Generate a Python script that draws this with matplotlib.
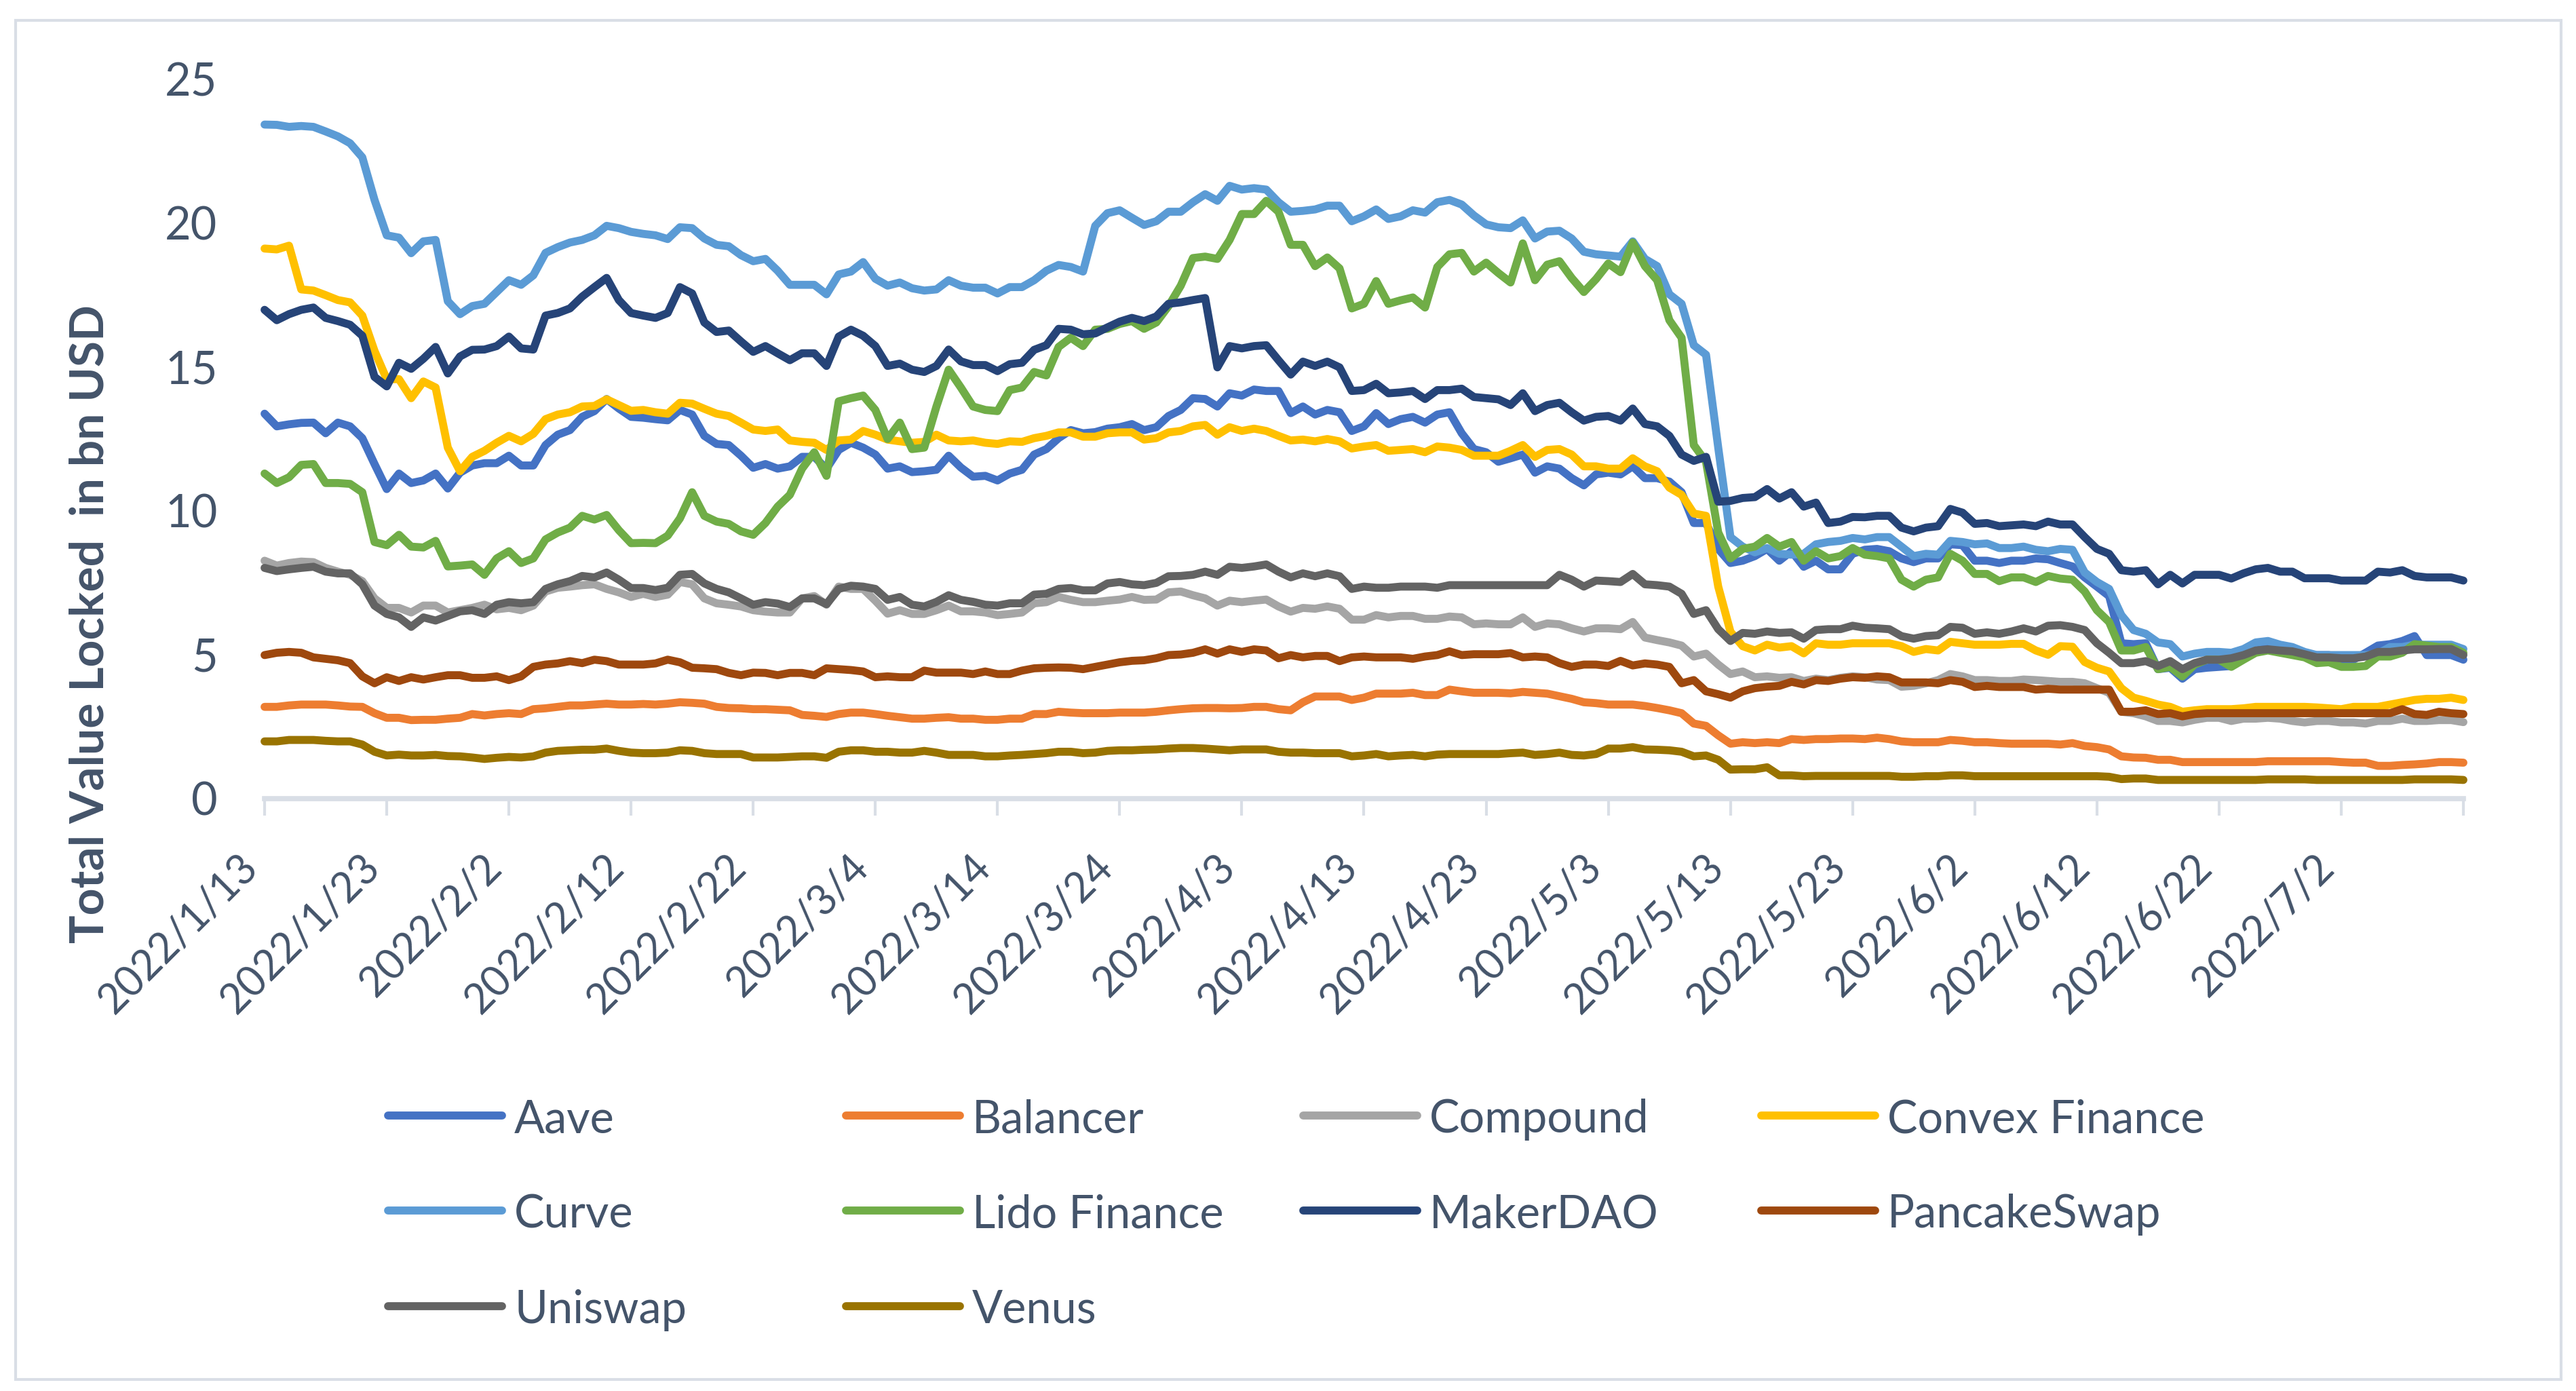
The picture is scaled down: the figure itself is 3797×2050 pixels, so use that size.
# -*- coding: utf-8 -*-
"""Total Value Locked of ten DeFi protocols, Jan-Jul 2022 (Excel-style line chart)."""

import matplotlib

matplotlib.use("Agg")
import matplotlib.pyplot as plt
from matplotlib.lines import Line2D
from matplotlib.patches import Rectangle
import pandas as pd

plt.rcParams["font.family"] = ["Lato", "DejaVu Sans"]

# categories: one point per day
dates = pd.date_range("2022-01-13", periods=181, freq="D")
date_labels = [f"{d.year}/{d.month}/{d.day}" for d in dates]

# values in bn USD
aave = [
    13.38, 12.94, 13.01, 13.06, 13.07, 12.70, 13.07, 12.94, 12.53, 11.63,
    10.76, 11.30, 10.97, 11.06, 11.30, 10.78, 11.33, 11.58, 11.66, 11.66,
    11.92, 11.58, 11.58, 12.29, 12.65, 12.81, 13.27, 13.47, 13.89, 13.56,
    13.27, 13.24, 13.19, 13.15, 13.51, 13.35, 12.61, 12.33, 12.29, 11.92,
    11.50, 11.63, 11.47, 11.55, 11.88, 11.88, 11.47, 12.12, 12.37, 12.20,
    11.96, 11.47, 11.55, 11.35, 11.38, 11.43, 11.92, 11.51, 11.19, 11.22,
    11.06, 11.30, 11.43, 11.96, 12.15, 12.53, 12.81, 12.70, 12.74, 12.86,
    12.91, 13.02, 12.81, 12.91, 13.30, 13.51, 13.92, 13.89, 13.63, 14.09,
    14.01, 14.22, 14.17, 14.17, 13.40, 13.63, 13.35, 13.51, 13.43, 12.78,
    12.94, 13.40, 13.02, 13.19, 13.27, 13.07, 13.35, 13.43, 12.70, 12.15,
    12.04, 11.71, 11.83, 11.96, 11.33, 11.55, 11.47, 11.14, 10.89, 11.27,
    11.33, 11.27, 11.55, 11.14, 11.14, 11.02, 10.65, 9.58, 9.58, 8.68,
    8.19, 8.27, 8.43, 8.68, 8.27, 8.60, 8.06, 8.27, 7.97, 7.97,
    8.51, 8.65, 8.68, 8.60, 8.35, 8.22, 8.35, 8.35, 8.84, 8.81,
    8.27, 8.27, 8.19, 8.27, 8.27, 8.35, 8.32, 8.19, 8.07, 7.69,
    7.37, 7.04, 5.40, 5.37, 5.40, 4.50, 4.55, 4.17, 4.50, 4.55,
    4.58, 4.61, 4.91, 5.15, 5.24, 5.15, 5.10, 4.99, 4.99, 4.99,
    4.83, 4.83, 5.07, 5.32, 5.37, 5.48, 5.65, 4.99, 4.99, 4.99,
    4.83]
balancer = [
    3.19, 3.19, 3.24, 3.27, 3.27, 3.27, 3.24, 3.20, 3.19, 2.97,
    2.81, 2.81, 2.73, 2.74, 2.74, 2.78, 2.81, 2.94, 2.89, 2.94,
    2.97, 2.94, 3.11, 3.14, 3.19, 3.24, 3.24, 3.27, 3.30, 3.27,
    3.27, 3.29, 3.27, 3.30, 3.35, 3.33, 3.30, 3.19, 3.15, 3.14,
    3.11, 3.11, 3.09, 3.07, 2.91, 2.88, 2.84, 2.94, 2.99, 2.99,
    2.94, 2.88, 2.83, 2.78, 2.78, 2.81, 2.83, 2.78, 2.78, 2.74,
    2.74, 2.78, 2.78, 2.94, 2.94, 3.02, 2.99, 2.97, 2.97, 2.97,
    2.99, 2.99, 2.99, 3.02, 3.07, 3.11, 3.14, 3.15, 3.15, 3.14,
    3.15, 3.19, 3.19, 3.11, 3.07, 3.35, 3.55, 3.55, 3.55, 3.43,
    3.51, 3.65, 3.65, 3.65, 3.68, 3.60, 3.60, 3.79, 3.73, 3.68,
    3.68, 3.68, 3.66, 3.71, 3.68, 3.65, 3.56, 3.47, 3.35, 3.32,
    3.27, 3.27, 3.27, 3.22, 3.15, 3.07, 2.97, 2.61, 2.53, 2.20,
    1.91, 1.96, 1.93, 1.96, 1.93, 2.07, 2.04, 2.07, 2.07, 2.09,
    2.09, 2.07, 2.12, 2.07, 1.99, 1.96, 1.96, 1.96, 2.04, 2.01,
    1.96, 1.96, 1.93, 1.91, 1.91, 1.91, 1.91, 1.88, 1.93, 1.83,
    1.79, 1.71, 1.47, 1.43, 1.42, 1.35, 1.35, 1.27, 1.27, 1.27,
    1.27, 1.27, 1.27, 1.27, 1.30, 1.30, 1.30, 1.30, 1.30, 1.30,
    1.27, 1.25, 1.25, 1.14, 1.14, 1.17, 1.19, 1.22, 1.27, 1.27,
    1.25]
compound = [
    8.27, 8.10, 8.19, 8.24, 8.22, 8.02, 7.89, 7.78, 7.56, 6.96,
    6.63, 6.63, 6.47, 6.71, 6.71, 6.47, 6.55, 6.63, 6.74, 6.58,
    6.63, 6.55, 6.71, 7.20, 7.33, 7.37, 7.42, 7.45, 7.29, 7.17,
    7.01, 7.12, 7.01, 7.09, 7.53, 7.45, 6.96, 6.79, 6.74, 6.68,
    6.55, 6.50, 6.47, 6.47, 6.96, 7.04, 6.74, 7.37, 7.29, 7.29,
    6.88, 6.43, 6.55, 6.42, 6.42, 6.55, 6.71, 6.51, 6.51, 6.47,
    6.38, 6.42, 6.47, 6.79, 6.83, 7.01, 6.91, 6.83, 6.83, 6.88,
    6.92, 7.01, 6.91, 6.92, 7.17, 7.20, 7.07, 6.96, 6.71, 6.88,
    6.83, 6.88, 6.92, 6.68, 6.50, 6.63, 6.60, 6.68, 6.60, 6.22,
    6.22, 6.38, 6.30, 6.35, 6.35, 6.25, 6.25, 6.33, 6.30, 6.06,
    6.09, 6.06, 6.06, 6.30, 5.97, 6.09, 6.06, 5.92, 5.81, 5.92,
    5.92, 5.89, 6.14, 5.60, 5.51, 5.43, 5.32, 4.94, 5.04, 4.66,
    4.33, 4.42, 4.22, 4.25, 4.20, 4.22, 4.09, 4.17, 4.12, 4.20,
    4.25, 4.22, 4.14, 4.12, 3.89, 3.92, 4.01, 4.12, 4.33, 4.25,
    4.12, 4.12, 4.09, 4.09, 4.14, 4.12, 4.09, 4.06, 4.06, 4.01,
    3.84, 3.68, 3.02, 2.97, 2.86, 2.70, 2.70, 2.65, 2.74, 2.81,
    2.81, 2.70, 2.78, 2.78, 2.81, 2.78, 2.70, 2.65, 2.70, 2.70,
    2.65, 2.65, 2.61, 2.70, 2.70, 2.78, 2.70, 2.70, 2.73, 2.73,
    2.66]
convex = [
    19.12, 19.09, 19.22, 17.70, 17.66, 17.50, 17.33, 17.25, 16.79, 15.56,
    14.58, 14.58, 13.92, 14.50, 14.29, 12.20, 11.38, 11.88, 12.09, 12.37,
    12.61, 12.42, 12.68, 13.19, 13.35, 13.43, 13.63, 13.65, 13.88, 13.68,
    13.48, 13.51, 13.43, 13.38, 13.76, 13.73, 13.55, 13.38, 13.30, 13.07,
    12.83, 12.78, 12.83, 12.45, 12.40, 12.37, 12.12, 12.45, 12.48, 12.78,
    12.65, 12.48, 12.42, 12.37, 12.40, 12.65, 12.45, 12.42, 12.45, 12.37,
    12.33, 12.42, 12.40, 12.53, 12.61, 12.73, 12.73, 12.58, 12.58, 12.70,
    12.73, 12.73, 12.48, 12.53, 12.73, 12.78, 12.94, 12.99, 12.65, 12.91,
    12.78, 12.86, 12.78, 12.61, 12.45, 12.48, 12.42, 12.50, 12.42, 12.17,
    12.24, 12.29, 12.09, 12.12, 12.15, 12.04, 12.24, 12.20, 12.12, 11.92,
    11.92, 11.92, 12.09, 12.29, 11.88, 12.12, 12.15, 11.96, 11.55, 11.55,
    11.47, 11.47, 11.83, 11.55, 11.38, 10.81, 10.56, 9.91, 9.83, 7.37,
    5.80, 5.30, 5.15, 5.35, 5.25, 5.30, 5.05, 5.40, 5.35, 5.35,
    5.40, 5.40, 5.40, 5.40, 5.30, 5.10, 5.20, 5.15, 5.45, 5.40,
    5.35, 5.35, 5.35, 5.38, 5.38, 5.15, 5.00, 5.30, 5.28, 4.75,
    4.55, 4.42, 3.84, 3.51, 3.40, 3.27, 3.19, 3.02, 3.07, 3.11,
    3.11, 3.11, 3.14, 3.19, 3.19, 3.19, 3.19, 3.19, 3.17, 3.14,
    3.11, 3.19, 3.19, 3.19, 3.27, 3.35, 3.43, 3.47, 3.47, 3.51,
    3.43]
curve = [
    23.43, 23.42, 23.35, 23.38, 23.35, 23.19, 23.02, 22.78, 22.29, 20.81,
    19.58, 19.50, 18.96, 19.37, 19.42, 17.29, 16.84, 17.12, 17.20, 17.61,
    18.02, 17.86, 18.19, 18.97, 19.17, 19.33, 19.42, 19.58, 19.91, 19.83,
    19.70, 19.63, 19.58, 19.45, 19.86, 19.83, 19.47, 19.25, 19.20, 18.89,
    18.68, 18.76, 18.35, 17.86, 17.86, 17.86, 17.53, 18.22, 18.32, 18.65,
    18.07, 17.83, 17.94, 17.74, 17.66, 17.70, 18.02, 17.83, 17.76, 17.76,
    17.56, 17.78, 17.78, 18.02, 18.35, 18.55, 18.48, 18.32, 19.91, 20.35,
    20.45, 20.19, 19.94, 20.07, 20.40, 20.40, 20.73, 21.01, 20.78, 21.30,
    21.17, 21.22, 21.17, 20.73, 20.40, 20.43, 20.48, 20.61, 20.61, 20.07,
    20.24, 20.48, 20.15, 20.24, 20.45, 20.37, 20.73, 20.81, 20.65, 20.27,
    19.96, 19.86, 19.83, 20.10, 19.47, 19.71, 19.74, 19.47, 19.01, 18.92,
    18.88, 18.84, 19.37, 18.76, 18.51, 17.53, 17.20, 15.76, 15.43, 12.20,
    9.09, 8.76, 8.56, 8.71, 8.51, 8.48, 8.51, 8.84, 8.92, 8.96,
    9.06, 9.01, 9.09, 9.09, 8.76, 8.43, 8.51, 8.48, 8.96, 8.92,
    8.84, 8.87, 8.71, 8.71, 8.76, 8.65, 8.60, 8.68, 8.65, 7.86,
    7.53, 7.29, 6.38, 5.86, 5.73, 5.43, 5.37, 4.94, 5.04, 5.10,
    5.10, 5.07, 5.20, 5.43, 5.48, 5.35, 5.27, 5.10, 4.99, 4.99,
    4.99, 4.99, 4.99, 5.04, 5.27, 5.27, 5.35, 5.35, 5.35, 5.35,
    5.20]
lido = [
    11.30, 10.97, 11.17, 11.60, 11.63, 10.97, 10.97, 10.94, 10.65, 8.92,
    8.81, 9.17, 8.76, 8.73, 8.96, 8.07, 8.10, 8.14, 7.78, 8.35,
    8.60, 8.19, 8.35, 9.01, 9.25, 9.42, 9.83, 9.70, 9.86, 9.33,
    8.88, 8.89, 8.88, 9.14, 9.74, 10.65, 9.83, 9.63, 9.55, 9.29,
    9.17, 9.58, 10.15, 10.56, 11.47, 12.04, 11.22, 13.81, 13.92, 14.01,
    13.51, 12.50, 13.07, 12.15, 12.20, 13.63, 14.91, 14.29, 13.63, 13.51,
    13.47, 14.20, 14.29, 14.83, 14.71, 15.70, 16.02, 15.73, 16.30, 16.33,
    16.50, 16.60, 16.33, 16.55, 17.12, 17.83, 18.79, 18.84, 18.76, 19.42,
    20.32, 20.32, 20.78, 20.40, 19.25, 19.25, 18.51, 18.81, 18.43, 17.04,
    17.20, 17.99, 17.20, 17.32, 17.42, 17.07, 18.48, 18.92, 18.97, 18.32,
    18.63, 18.27, 17.94, 19.30, 18.02, 18.56, 18.68, 18.10, 17.61, 18.06,
    18.60, 18.30, 19.33, 18.51, 18.02, 16.63, 16.02, 12.29, 11.71, 9.25,
    8.35, 8.68, 8.76, 9.06, 8.76, 8.92, 8.27, 8.60, 8.35, 8.43,
    8.71, 8.48, 8.43, 8.35, 7.61, 7.37, 7.61, 7.69, 8.51, 8.27,
    7.81, 7.81, 7.56, 7.69, 7.69, 7.53, 7.74, 7.65, 7.61, 7.20,
    6.55, 6.14, 5.15, 5.15, 5.27, 4.50, 4.58, 4.25, 4.66, 4.83,
    4.83, 4.58, 4.83, 5.07, 5.15, 5.07, 4.99, 4.91, 4.71, 4.74,
    4.58, 4.58, 4.61, 4.94, 4.94, 5.07, 5.37, 5.32, 5.27, 5.27,
    5.07]
maker = [
    16.99, 16.63, 16.84, 16.99, 17.07, 16.71, 16.60, 16.47, 16.09, 14.66,
    14.33, 15.15, 14.94, 15.29, 15.70, 14.78, 15.37, 15.60, 15.61, 15.73,
    16.06, 15.65, 15.61, 16.79, 16.88, 17.04, 17.45, 17.78, 18.10, 17.33,
    16.88, 16.79, 16.71, 16.88, 17.78, 17.56, 16.55, 16.22, 16.27, 15.89,
    15.53, 15.73, 15.48, 15.24, 15.48, 15.48, 15.04, 16.06, 16.30, 16.09,
    15.73, 15.04, 15.12, 14.91, 14.83, 15.04, 15.61, 15.20, 15.07, 15.07,
    14.86, 15.10, 15.15, 15.60, 15.76, 16.33, 16.30, 16.14, 16.17, 16.38,
    16.58, 16.71, 16.60, 16.76, 17.20, 17.25, 17.33, 17.40, 14.99, 15.73,
    15.65, 15.73, 15.76, 15.24, 14.74, 15.19, 15.04, 15.19, 14.99, 14.17,
    14.20, 14.42, 14.09, 14.12, 14.17, 13.89, 14.20, 14.20, 14.25, 13.96,
    13.92, 13.88, 13.68, 14.09, 13.47, 13.68, 13.76, 13.43, 13.14, 13.27,
    13.30, 13.14, 13.56, 13.02, 12.94, 12.61, 11.96, 11.74, 11.88, 10.32,
    10.35, 10.45, 10.48, 10.76, 10.43, 10.65, 10.15, 10.29, 9.58, 9.63,
    9.79, 9.78, 9.83, 9.83, 9.42, 9.29, 9.42, 9.47, 10.07, 9.94,
    9.55, 9.58, 9.47, 9.50, 9.53, 9.47, 9.63, 9.53, 9.53, 9.09,
    8.68, 8.51, 7.94, 7.89, 7.94, 7.45, 7.78, 7.48, 7.78, 7.78,
    7.78, 7.65, 7.83, 7.97, 8.02, 7.89, 7.89, 7.66, 7.66, 7.66,
    7.58, 7.58, 7.58, 7.89, 7.86, 7.94, 7.74, 7.69, 7.69, 7.69,
    7.58]
pancake = [
    4.99, 5.07, 5.10, 5.07, 4.91, 4.86, 4.81, 4.71, 4.25, 4.01,
    4.22, 4.09, 4.22, 4.14, 4.22, 4.29, 4.29, 4.20, 4.20, 4.25,
    4.12, 4.25, 4.58, 4.66, 4.70, 4.78, 4.71, 4.83, 4.78, 4.66,
    4.66, 4.66, 4.70, 4.83, 4.74, 4.55, 4.53, 4.50, 4.37, 4.29,
    4.38, 4.37, 4.29, 4.37, 4.37, 4.29, 4.53, 4.50, 4.47, 4.42,
    4.22, 4.25, 4.22, 4.22, 4.45, 4.38, 4.38, 4.38, 4.33, 4.42,
    4.33, 4.33, 4.45, 4.53, 4.55, 4.56, 4.55, 4.50, 4.58, 4.66,
    4.74, 4.79, 4.81, 4.88, 4.99, 5.01, 5.07, 5.19, 5.04, 5.19,
    5.10, 5.19, 5.15, 4.88, 4.99, 4.91, 4.96, 4.96, 4.78, 4.91,
    4.94, 4.91, 4.91, 4.91, 4.86, 4.94, 4.99, 5.12, 4.99, 5.02,
    5.02, 5.02, 5.06, 4.91, 4.94, 4.91, 4.71, 4.58, 4.66, 4.66,
    4.61, 4.79, 4.63, 4.70, 4.66, 4.58, 4.01, 4.12, 3.73, 3.63,
    3.51, 3.73, 3.84, 3.89, 3.92, 4.06, 3.97, 4.12, 4.09, 4.17,
    4.22, 4.20, 4.25, 4.22, 4.04, 4.04, 4.04, 4.01, 4.12, 4.06,
    3.88, 3.92, 3.88, 3.88, 3.88, 3.79, 3.82, 3.79, 3.79, 3.79,
    3.79, 3.79, 3.02, 3.02, 3.07, 2.94, 2.97, 2.86, 2.94, 2.97,
    2.97, 2.97, 2.97, 2.97, 2.97, 2.97, 2.97, 2.97, 2.97, 2.97,
    2.97, 2.97, 2.97, 2.97, 2.97, 3.11, 2.94, 2.91, 3.02, 2.97,
    2.94]
uniswap = [
    8.02, 7.91, 7.97, 8.02, 8.06, 7.89, 7.83, 7.83, 7.45, 6.71,
    6.42, 6.30, 5.97, 6.30, 6.19, 6.35, 6.51, 6.55, 6.42, 6.74,
    6.83, 6.79, 6.83, 7.29, 7.45, 7.56, 7.74, 7.69, 7.86, 7.61,
    7.32, 7.32, 7.25, 7.33, 7.78, 7.81, 7.48, 7.29, 7.17, 6.96,
    6.74, 6.83, 6.78, 6.66, 6.96, 6.96, 6.76, 7.29, 7.40, 7.37,
    7.29, 6.91, 7.01, 6.74, 6.68, 6.84, 7.07, 6.91, 6.84, 6.74,
    6.71, 6.79, 6.79, 7.09, 7.12, 7.29, 7.32, 7.24, 7.24, 7.48,
    7.53, 7.45, 7.42, 7.50, 7.73, 7.74, 7.78, 7.89, 7.78, 8.06,
    8.02, 8.07, 8.14, 7.89, 7.69, 7.83, 7.73, 7.83, 7.73, 7.29,
    7.37, 7.33, 7.33, 7.37, 7.37, 7.37, 7.33, 7.42, 7.42, 7.42,
    7.42, 7.42, 7.42, 7.42, 7.42, 7.42, 7.78, 7.61, 7.37, 7.58,
    7.56, 7.53, 7.81, 7.45, 7.42, 7.37, 7.12, 6.42, 6.55, 5.89,
    5.48, 5.76, 5.73, 5.81, 5.76, 5.78, 5.56, 5.86, 5.89, 5.89,
    6.01, 5.94, 5.92, 5.89, 5.65, 5.56, 5.65, 5.68, 5.97, 5.94,
    5.73, 5.78, 5.73, 5.81, 5.92, 5.81, 6.01, 6.03, 5.97, 5.86,
    5.40, 5.07, 4.71, 4.71, 4.78, 4.61, 4.78, 4.50, 4.71, 4.83,
    4.83, 4.88, 4.99, 5.15, 5.19, 5.15, 5.12, 5.02, 4.91, 4.91,
    4.88, 4.88, 4.94, 5.10, 5.10, 5.15, 5.19, 5.19, 5.20, 5.20,
    4.99]
venus = [
    1.99, 1.99, 2.04, 2.04, 2.04, 2.01, 1.99, 1.99, 1.88, 1.63,
    1.50, 1.53, 1.50, 1.50, 1.52, 1.48, 1.47, 1.43, 1.38, 1.42,
    1.45, 1.43, 1.47, 1.60, 1.66, 1.68, 1.70, 1.70, 1.74, 1.66,
    1.60, 1.58, 1.58, 1.60, 1.68, 1.66, 1.58, 1.55, 1.55, 1.55,
    1.43, 1.43, 1.43, 1.45, 1.47, 1.47, 1.42, 1.63, 1.68, 1.68,
    1.63, 1.63, 1.60, 1.60, 1.66, 1.60, 1.52, 1.52, 1.52, 1.47,
    1.47, 1.50, 1.52, 1.55, 1.58, 1.63, 1.63, 1.58, 1.60, 1.66,
    1.68, 1.68, 1.70, 1.71, 1.74, 1.76, 1.76, 1.74, 1.71, 1.68,
    1.71, 1.71, 1.71, 1.63, 1.60, 1.60, 1.58, 1.58, 1.58, 1.47,
    1.50, 1.55, 1.47, 1.50, 1.52, 1.47, 1.53, 1.55, 1.55, 1.55,
    1.55, 1.55, 1.58, 1.60, 1.52, 1.55, 1.60, 1.52, 1.50, 1.55,
    1.74, 1.74, 1.79, 1.71, 1.70, 1.68, 1.63, 1.47, 1.50, 1.35,
    1.01, 1.02, 1.02, 1.09, 0.81, 0.81, 0.78, 0.79, 0.79, 0.79,
    0.79, 0.79, 0.79, 0.79, 0.76, 0.76, 0.78, 0.78, 0.81, 0.81,
    0.78, 0.78, 0.78, 0.78, 0.78, 0.78, 0.78, 0.78, 0.78, 0.78,
    0.78, 0.76, 0.68, 0.70, 0.70, 0.65, 0.65, 0.65, 0.65, 0.65,
    0.65, 0.65, 0.65, 0.65, 0.67, 0.67, 0.67, 0.67, 0.65, 0.65,
    0.65, 0.65, 0.65, 0.65, 0.65, 0.65, 0.67, 0.67, 0.67, 0.67,
    0.65]

names = ["Aave", "Balancer", "Compound", "Convex Finance", "Curve",
         "Lido Finance", "MakerDAO", "PancakeSwap", "Uniswap", "Venus"]
colors = ["#4472C4", "#ED7D31", "#A5A5A5", "#FFC000", "#5B9BD5",
          "#70AD47", "#264478", "#9E480E", "#636363", "#997300"]
values = [aave, balancer, compound, convex, curve, lido, maker, pancake, uniswap, venus]

for v in values:
    assert len(v) == len(dates), len(v)

TEXT = "#44546A"
GRID = "#D9DEE6"
W, H = 3798, 2050

fig = plt.figure(figsize=(W / 100, H / 100), dpi=100)
fig.patch.set_facecolor("white")
fig.patches.append(Rectangle((23 / W, 1 - 2033 / H), (3775 - 23) / W, (2033 - 30) / H,
                             transform=fig.transFigure, fill=False, ec=GRID, lw=3))

ax = fig.add_axes([390 / W, 1 - 1177 / H, (3631 - 390) / W, (1177 - 117) / H])
x = list(range(len(dates)))
for name, vals, col in zip(names, values, colors):
    ax.plot(x, vals, color=col, lw=8.5, solid_joinstyle="round", solid_capstyle="round",
            clip_on=False, label=name)

ax.set_xlim(0, len(dates) - 1)
ax.set_ylim(0, 25)
for side in ["top", "right", "left"]:
    ax.spines[side].set_visible(False)
ax.spines["bottom"].set_color(GRID)
ax.spines["bottom"].set_linewidth(5.5)

xt = list(range(0, len(dates), 10))
ax.set_xticks(xt)
ax.set_xticklabels([date_labels[i] if i < 180 else "" for i in xt])
ax.tick_params(axis="x", length=18, width=3, color=GRID, pad=34, labelsize=44, labelcolor=TEXT)
for lab in ax.get_xticklabels():
    lab.set_rotation(45)
    lab.set_ha("right")
    lab.set_va("top")

ax.set_yticks(range(0, 26, 5))
ax.tick_params(axis="y", length=0, pad=50, labelsize=48, labelcolor=TEXT)

fig.text(133 / W, 1 - 920 / H, "Total Value Locked  in bn USD", rotation=90,
         ha="center", va="center", fontsize=50, fontweight="bold", color=TEXT)

# legend laid out like Excel: 4 equal columns, 3 rows
col_x = [572, 1247, 1921, 2596]
row_y = [1644, 1784, 1925]
for i, (name, col) in enumerate(zip(names, colors)):
    cx = col_x[i % 4]
    cy = row_y[i // 4]
    fig.add_artist(Line2D([cx / W, (cx + 168) / W], [1 - cy / H, 1 - cy / H],
                          transform=fig.transFigure, color=col, lw=8.5, solid_capstyle="round"))
    fig.text((cx + 186) / W, 1 - cy / H, name, ha="left", va="center_baseline",
             fontsize=48, color=TEXT)

fig.savefig("out.png", dpi=100, facecolor="white")
